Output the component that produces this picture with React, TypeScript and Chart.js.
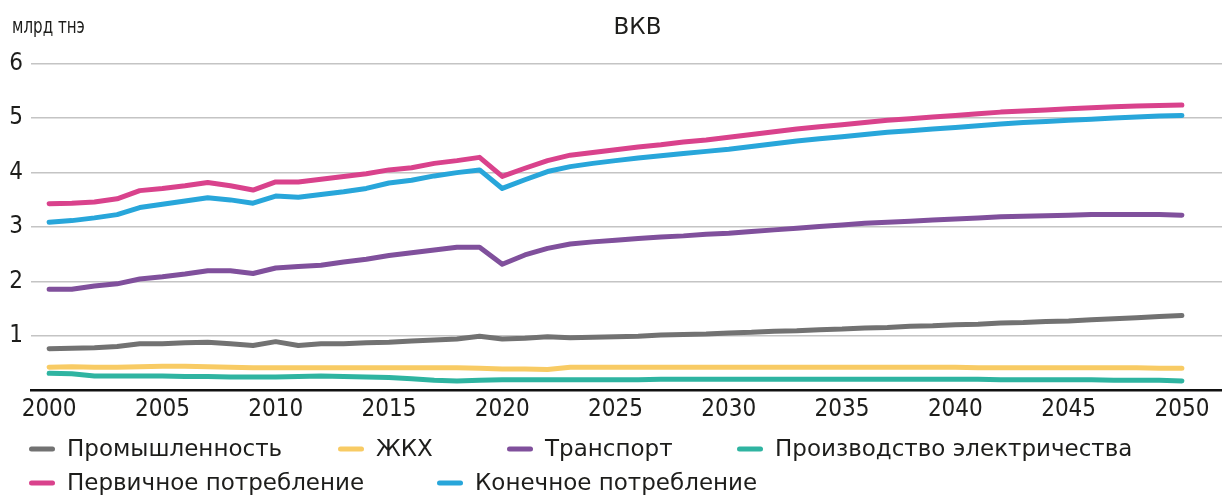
import React, { useEffect, useRef } from "react";
import { Chart, registerables } from "chart.js";

Chart.register(...registerables);

const years: number[] = [
  2000, 2001, 2002, 2003, 2004, 2005, 2006, 2007, 2008, 2009,
  2010, 2011, 2012, 2013, 2014, 2015, 2016, 2017, 2018, 2019,
  2020, 2021, 2022, 2023, 2024, 2025, 2026, 2027, 2028, 2029,
  2030, 2031, 2032, 2033, 2034, 2035, 2036, 2037, 2038, 2039,
  2040, 2041, 2042, 2043, 2044, 2045, 2046, 2047, 2048, 2049, 2050,
];

const xTickYears: number[] = [2000, 2005, 2010, 2015, 2020, 2025, 2030, 2035, 2040, 2045, 2050];
const yTickValues: number[] = [0, 1, 2, 3, 4, 5, 6];

const industry: number[] = [
  0.77, 0.78, 0.79, 0.81, 0.86, 0.86, 0.88, 0.89, 0.86, 0.83,
  0.90, 0.83, 0.86, 0.86, 0.88, 0.89, 0.91, 0.93, 0.95, 1.00,
  0.95, 0.96, 0.99, 0.97, 0.98, 0.99, 1.00, 1.02, 1.03, 1.04,
  1.06, 1.07, 1.09, 1.10, 1.12, 1.13, 1.15, 1.16, 1.18, 1.19,
  1.21, 1.22, 1.24, 1.25, 1.27, 1.28, 1.30, 1.32, 1.34, 1.36, 1.38,
];

const housing: number[] = [
  0.43, 0.44, 0.43, 0.43, 0.44, 0.45, 0.45, 0.44, 0.43, 0.42,
  0.42, 0.42, 0.42, 0.42, 0.42, 0.42, 0.42, 0.42, 0.42, 0.41,
  0.40, 0.40, 0.39, 0.43, 0.43, 0.43, 0.43, 0.43, 0.43, 0.43,
  0.43, 0.43, 0.43, 0.43, 0.43, 0.43, 0.43, 0.43, 0.43, 0.43,
  0.43, 0.42, 0.42, 0.42, 0.42, 0.42, 0.42, 0.42, 0.42, 0.41, 0.41,
];

const transport: number[] = [
  1.86, 1.86, 1.92, 1.96, 2.05, 2.09, 2.14, 2.20, 2.20, 2.15,
  2.25, 2.28, 2.30, 2.36, 2.41, 2.48, 2.53, 2.58, 2.63, 2.63,
  2.32, 2.49, 2.61, 2.69, 2.73, 2.76, 2.79, 2.82, 2.84, 2.87,
  2.89, 2.92, 2.95, 2.98, 3.01, 3.04, 3.07, 3.09, 3.11, 3.13,
  3.15, 3.17, 3.19, 3.20, 3.21, 3.22, 3.23, 3.23, 3.23, 3.23, 3.22,
];

const power: number[] = [
  0.32, 0.31, 0.27, 0.27, 0.27, 0.27, 0.26, 0.26, 0.25, 0.25,
  0.25, 0.26, 0.27, 0.26, 0.25, 0.24, 0.22, 0.19, 0.18, 0.19,
  0.20, 0.20, 0.20, 0.20, 0.20, 0.20, 0.20, 0.21, 0.21, 0.21,
  0.21, 0.21, 0.21, 0.21, 0.21, 0.21, 0.21, 0.21, 0.21, 0.21,
  0.21, 0.21, 0.20, 0.20, 0.20, 0.20, 0.20, 0.19, 0.19, 0.19, 0.18,
];

const primary: number[] = [
  3.43, 3.44, 3.46, 3.52, 3.67, 3.71, 3.76, 3.82, 3.76, 3.68,
  3.83, 3.83, 3.88, 3.93, 3.98, 4.05, 4.09, 4.17, 4.22, 4.28,
  3.93, 4.08, 4.22, 4.32, 4.37, 4.42, 4.47, 4.51, 4.56, 4.60,
  4.65, 4.70, 4.75, 4.80, 4.84, 4.88, 4.92, 4.96, 4.99, 5.02,
  5.05, 5.08, 5.11, 5.13, 5.15, 5.17, 5.19, 5.21, 5.22, 5.23, 5.24,
];

const finalUse: number[] = [
  3.09, 3.12, 3.17, 3.23, 3.36, 3.42, 3.48, 3.54, 3.50, 3.44,
  3.57, 3.55, 3.60, 3.65, 3.71, 3.81, 3.86, 3.94, 4.00, 4.05,
  3.71, 3.87, 4.02, 4.11, 4.17, 4.22, 4.27, 4.31, 4.35, 4.39,
  4.43, 4.48, 4.53, 4.58, 4.62, 4.66, 4.70, 4.74, 4.77, 4.80,
  4.83, 4.86, 4.89, 4.92, 4.94, 4.96, 4.98, 5.00, 5.02, 5.04, 5.05,
];

const seriesLabels: string[] = [
  "Промышленность",
  "ЖКХ",
  "Транспорт",
  "Производство электричества",
  "Первичное потребление",
  "Конечное потребление",
];
const seriesValues: number[][] = [industry, housing, transport, power, primary, finalUse];
const seriesColors: string[] = ["#727272", "#f8cb64", "#80509c", "#2fb4a1", "#d9428c", "#28a6da"];

const chartTitle = "ВКВ";
const unitLabel = "млрд тнэ";

const CONDENSED = '"DejaVu Sans Condensed", "Liberation Sans Narrow", sans-serif';
const REGULAR = '"DejaVu Sans", sans-serif';
const TEXT_COLOR = "#1d1d1b";

// legend layout (positions of each legend entry: line start x, row center y)
const legendSlots: [number, number][] = [
  [29, 449],
  [338, 449],
  [507, 449],
  [737, 449],
  [29, 483],
  [437, 483],
];

const decorPlugin = {
  id: "decor",
  afterDraw(chart: any) {
    const ctx = chart.ctx as CanvasRenderingContext2D;
    ctx.save();
    ctx.fillStyle = TEXT_COLOR;
    // unit label (narrow lettering)
    ctx.save();
    ctx.font = `21px ${CONDENSED}`;
    ctx.textAlign = "left";
    ctx.textBaseline = "alphabetic";
    ctx.translate(12, 33);
    ctx.scale(0.8, 1);
    ctx.fillText(unitLabel, 0, 0);
    ctx.restore();
    // title
    ctx.font = `23px ${REGULAR}`;
    ctx.textAlign = "center";
    ctx.textBaseline = "alphabetic";
    ctx.fillText(chartTitle, 637.5, 33.5);
    // legend
    ctx.font = `23px ${REGULAR}`;
    ctx.textAlign = "left";
    ctx.textBaseline = "middle";
    chart.data.datasets.forEach((ds: any, i: number) => {
      const slot = legendSlots[i];
      if (!slot) return;
      const [lx, ly] = slot;
      ctx.strokeStyle = ds.borderColor;
      ctx.lineWidth = 5;
      ctx.lineCap = "round";
      ctx.beginPath();
      ctx.moveTo(lx + 2.5, ly);
      ctx.lineTo(lx + 26 - 2.5, ly);
      ctx.stroke();
      ctx.fillStyle = TEXT_COLOR;
      ctx.fillText(ds.label, lx + 38, ly + 1);
    });
    ctx.restore();
  },
};

export default function App() {
  const canvasRef = useRef<HTMLCanvasElement | null>(null);

  useEffect(() => {
    document.body.style.margin = "0";
    const canvas = canvasRef.current;
    if (!canvas) return;

    const datasets = seriesLabels.map((label, i) => ({
      label,
      data: years.map((yr, j) => ({ x: yr, y: seriesValues[i][j] })),
      borderColor: seriesColors[i],
      backgroundColor: seriesColors[i],
      borderWidth: 5,
      borderCapStyle: "round" as const,
      borderJoinStyle: "round" as const,
      pointRadius: 0,
      pointHoverRadius: 0,
      tension: 0,
      fill: false,
    }));

    const chart = new Chart(canvas, {
      type: "line",
      data: { datasets },
      options: {
        animation: false,
        responsive: false,
        maintainAspectRatio: false,
        events: [],
        layout: { padding: { top: 63.6, left: 0, right: 0, bottom: 0 } },
        plugins: {
          legend: { display: false },
          title: { display: false },
          tooltip: { enabled: false },
        },
        scales: {
          x: {
            type: "linear",
            min: 1999.2,
            max: 2051.77,
            afterBuildTicks: (scale: any) => {
              scale.ticks = xTickYears.map((v) => ({ value: v }));
            },
            afterFit: (scale: any) => {
              scale.height = 105.3;
            },
            ticks: {
              autoSkip: false,
              maxRotation: 0,
              padding: 5,
              color: TEXT_COLOR,
              font: { family: CONDENSED, size: 24 },
              callback: (v: any) => String(v),
            },
            grid: { display: false, drawTicks: false },
            border: { display: true, color: "#111111", width: 2.6 },
          },
          y: {
            type: "linear",
            min: 0,
            max: 6,
            afterBuildTicks: (scale: any) => {
              scale.ticks = yTickValues.map((v) => ({ value: v }));
            },
            afterFit: (scale: any) => {
              scale.width = 31;
            },
            ticks: {
              padding: 8,
              color: TEXT_COLOR,
              font: { family: CONDENSED, size: 24 },
              callback: (v: any) => (v === 0 ? "" : String(v)),
            },
            grid: {
              drawTicks: false,
              lineWidth: 1.6,
              color: (c: any) => (c.tick && c.tick.value === 0 ? "rgba(0,0,0,0)" : "#c4c4c4"),
            },
            border: { display: false },
          },
        },
      },
      plugins: [decorPlugin],
    });

    return () => {
      chart.destroy();
    };
  }, []);

  return (
    <div style={{ width: 1222, height: 496, background: "#ffffff" }}>
      <canvas ref={canvasRef} width={1222} height={496} style={{ display: "block" }} />
    </div>
  );
}
